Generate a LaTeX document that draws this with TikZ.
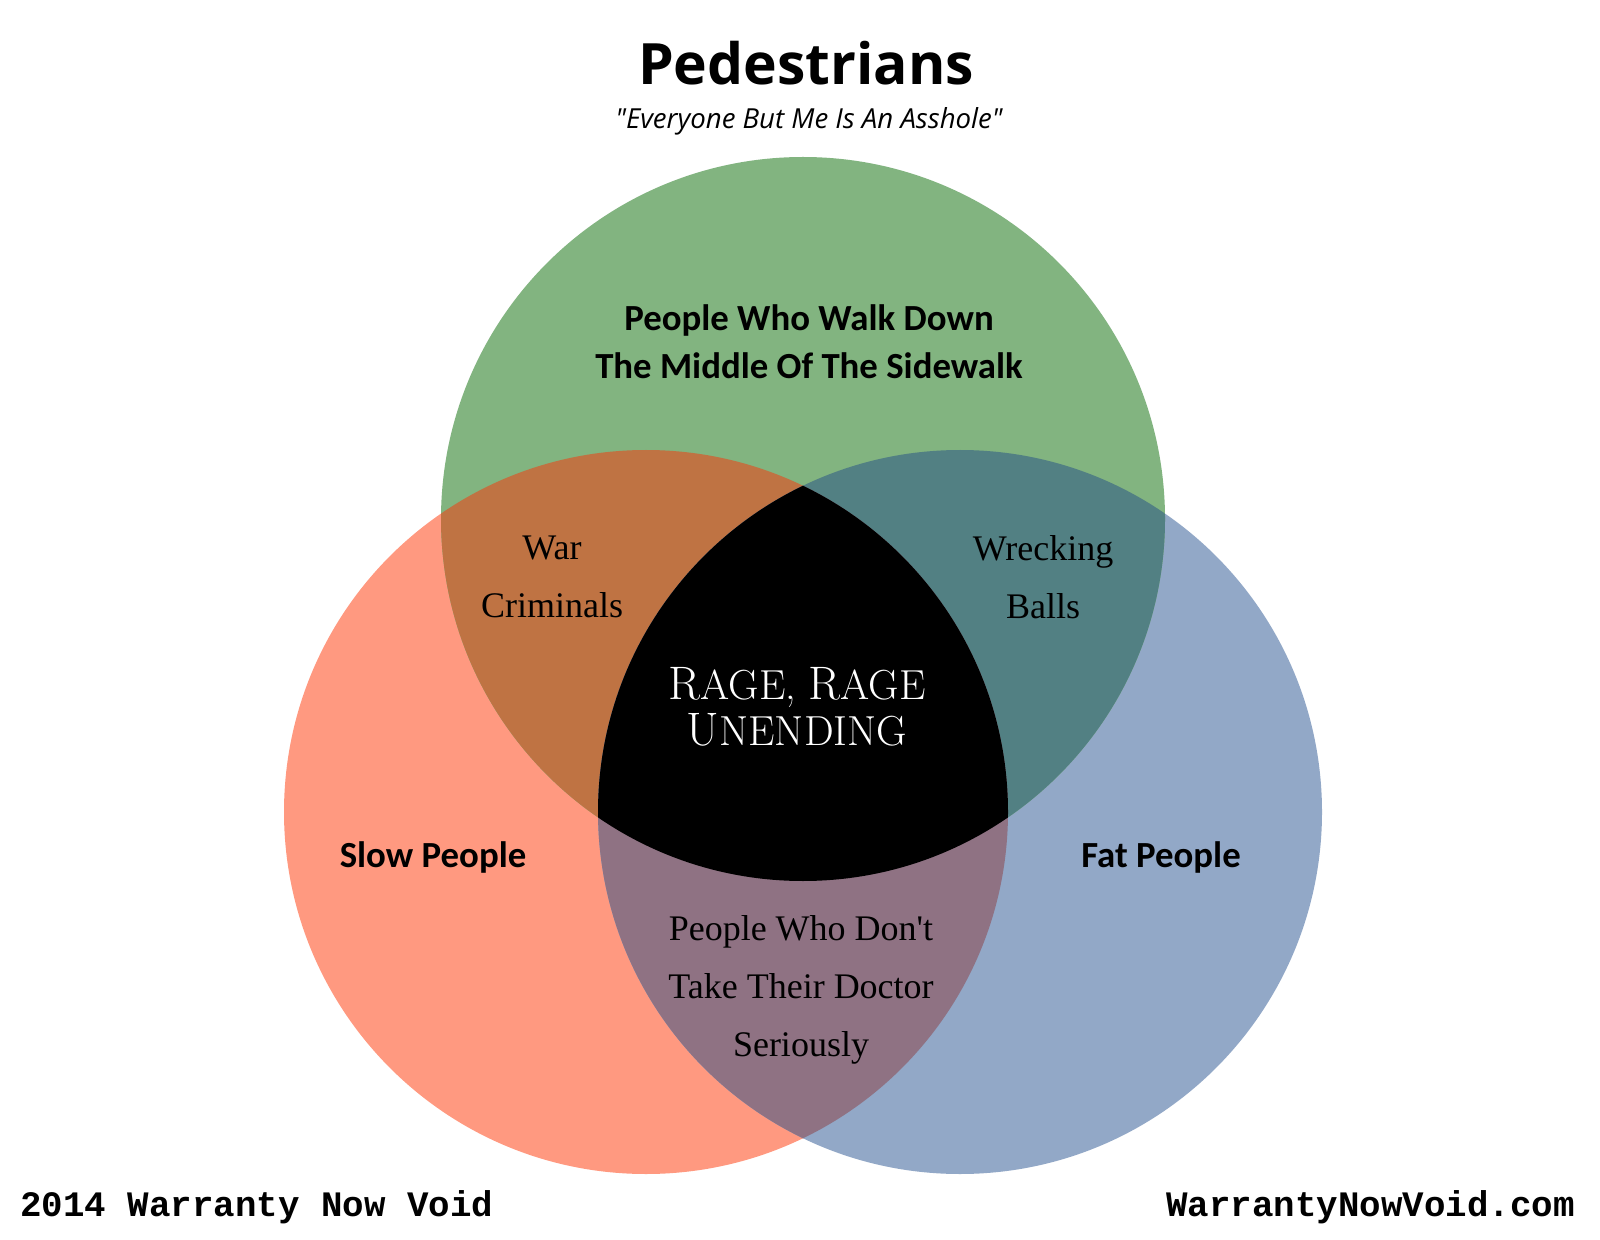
\documentclass[tikz,border=0pt]{standalone}
\usepackage{fontspec}
\newfontfamily\titlefont{Open Sans}
\newfontfamily\labelfont{Carlito}
\newfontfamily\bodyserif{Liberation Serif}
\newfontfamily\capsfont{Latin Modern Roman}
\newfontfamily\footfont{Liberation Mono}

\definecolor{slowred}{RGB}{255,153,128}
\definecolor{fatblue}{RGB}{146,168,199}
\definecolor{walkgreen}{RGB}{130,180,128}
\definecolor{redgreen}{RGB}{191,115,67}
\definecolor{greenblue}{RGB}{82,128,131}
\definecolor{redblue}{RGB}{143,114,131}

% a capital followed by slightly smaller capitals
\newcommand{\capword}[2]{{\fontsize{23.5}{23}\selectfont #1}{\fontsize{21}{23}\selectfont #2}}

\begin{document}
\begin{tikzpicture}[x=0.5pt,y=-0.5pt,
  setlabel/.style={font=\labelfont\bfseries\fontsize{18.4}{24}\selectfont, align=center, inner sep=0pt},
  pairlabel/.style={font=\bodyserif\fontsize{18}{29}\selectfont, align=center, inner sep=0pt},
  footer/.style={font=\footfont\bfseries\fontsize{17.9}{20}\selectfont, inner sep=0pt}]
  \useasboundingbox[fill=white] (0,0) rectangle (1600,1240);

  % circle centres
  \coordinate (cr) at (646,812);
  \coordinate (cb) at (960,812);
  \coordinate (cg) at (803,519);
  \def\rad{181pt}

  % base circles
  \fill[slowred] (cr) circle[radius=\rad];
  \fill[fatblue] (cb) circle[radius=\rad];
  \fill[walkgreen] (cg) circle[radius=\rad];

  % pairwise overlaps
  \begin{scope}
    \clip (cr) circle[radius=\rad];
    \fill[redgreen] (cg) circle[radius=\rad];
  \end{scope}
  \begin{scope}
    \clip (cb) circle[radius=\rad];
    \fill[greenblue] (cg) circle[radius=\rad];
  \end{scope}
  \begin{scope}
    \clip (cr) circle[radius=\rad];
    \fill[redblue] (cb) circle[radius=\rad];
  \end{scope}
  % triple overlap
  \begin{scope}
    \clip (cr) circle[radius=\rad];
    \clip (cb) circle[radius=\rad];
    \fill[black] (cg) circle[radius=\rad];
  \end{scope}

  % heading
  \node[font=\titlefont\bfseries\fontsize{28.5}{32}\selectfont, inner sep=0pt] (title) at (806,63) {Pedestrians};
  \node[font=\titlefont\itshape\fontsize{13.8}{16}\selectfont, inner sep=0pt] (subtitle) at (809,121) {"Everyone But Me Is An Asshole"};

  % set labels
  \node[setlabel] (walk) at (809,342) {People Who Walk Down\\The Middle Of The Sidewalk};
  \node[setlabel] (slow) at (433,857) {Slow People};
  \node[setlabel] (fat) at (1161,857) {Fat People};

  % overlap labels
  \node[pairlabel] (war) at (552,577) {War\\Criminals};
  \node[pairlabel] (wreck) at (1043,577) {Wrecking\\Balls};
  \node[pairlabel] (doctor) at (801,990) {People Who Don't\\Take Their Doctor\\Seriously};
  \node[font=\capsfont\fontsize{21}{23}\selectfont, text=white, align=center, inner sep=0pt] (rage) at (797,707)
    {\capword{R}{AGE}, \capword{R}{AGE}\\\capword{U}{NENDING}};

  % footers
  \node[footer, anchor=base west] (left) at (20,1216) {2014 Warranty Now Void};
  \node[footer, anchor=base east] (right) at (1575,1216) {WarrantyNowVoid.com};
\end{tikzpicture}
\end{document}
